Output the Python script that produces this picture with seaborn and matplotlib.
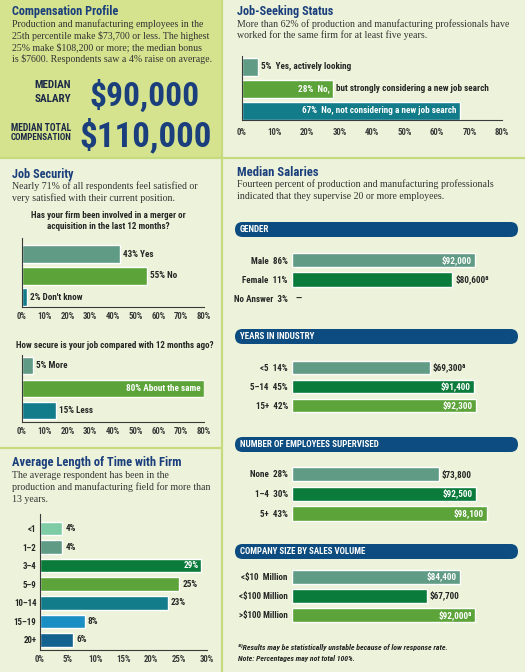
import matplotlib
matplotlib.use("Agg")
import matplotlib.pyplot as plt
from matplotlib.patches import Rectangle, FancyBboxPatch
import seaborn as sns
import pandas as pd

# ---------------- data ----------------
seek_labels = ["Yes, actively looking",
               "No, but strongly considering a new job search",
               "No, not considering a new job search"]
seek_vals = [5, 28, 67]
seek_place = ["out", "split", "in"]

merger_labels = ["Yes", "No", "Don't know"]
merger_vals = [43, 55, 2]
merger_place = ["out", "out", "out"]

secure_labels = ["More", "About the same", "Less"]
secure_vals = [5, 80, 15]
secure_place = ["out", "in", "out"]

tenure_cats = ["<1", "1–2", "3–4", "5–9", "10–14", "15–19", "20+"]
tenure_vals = [4, 4, 29, 25, 23, 8, 6]
tenure_place = ["out", "out", "in", "out", "out", "out", "out"]

gender_cats = ["Male", "Female", "No Answer"]
gender_pct = ["86%", "11%", "3%"]
gender_sal = [92000, 80600, None]
gender_note = ["", "ᵃ", ""]

industry_cats = ["<5", "5–14", "15+"]
industry_pct = ["14%", "45%", "42%"]
industry_sal = [69300, 91400, 92300]
industry_note = ["ᵃ", "", ""]

superv_cats = ["None", "1–4", "5+"]
superv_pct = ["28%", "30%", "43%"]
superv_sal = [73800, 92500, 98100]
superv_note = ["", "", ""]

size_cats = ["<$10  Million", "<$100 Million", ">$100 Million"]
size_pct = ["", "", ""]
size_sal = [84400, 67700, 92000]
size_note = ["", "", "ᵃ"]

# ---------------- style ----------------
W, H = 525, 672
BG = "#edf3da"
PANEL = "#d5e38f"
SEP = "#c6da80"
NAVY = "#1b3f7c"
PILL = "#0d4c80"
DARK = "#262626"
GREYGREEN = "#5f9b85"
GREEN = "#5ca43a"
TEAL = "#127c8b"
DKGREEN = "#0a7b3a"
MINT = "#7ecca6"
LTBLUE = "#1a8fc3"
DKBLUE = "#13618f"

NARROW = ["Roboto Condensed", "Roboto", "DejaVu Sans"]
SERIF = ["Liberation Serif", "DejaVu Serif"]

sns.set_style("white")
plt.rcParams["font.family"] = NARROW
plt.rcParams["font.weight"] = "bold"

fig = plt.figure(figsize=(W / 100, H / 100), dpi=100, facecolor=BG)
FIT = []  # (text, max width in px)

# overlay in pixel coordinates
ax0 = fig.add_axes([0, 0, 1, 1])
ax0.set_xlim(0, W)
ax0.set_ylim(H, 0)
ax0.axis("off")
ax0.add_patch(Rectangle((0, 0), 222, 158, color=PANEL, lw=0))
ax0.plot([222, 222], [0, H], color=SEP, lw=1.6)
ax0.plot([0, W], [158, 158], color=SEP, lw=1.6)
ax0.plot([0, 222], [448, 448], color=SEP, lw=1.6)


def txt(x, y, s, size, fit=None, **kw):
    kw.setdefault("color", DARK)
    kw.setdefault("va", "baseline")
    t = ax0.text(x, y, s, fontsize=size, parse_math=False, **kw)
    if fit:
        FIT.append((t, fit))
    return t


def title(x, y, s, w):
    txt(x, y, s, 10, fit=w, color=NAVY, fontweight="bold")


def body(x, y0, lines, step=11.8):
    for i, line in enumerate(lines):
        txt(x, y0 + i * step, line, 7.15, family=SERIF, fontweight="normal", color="#333333")


# compensation profile
title(12, 15, "Compensation Profile", 106)
body(12, 27, ["Production and manufacturing employees in the",
              "25th percentile make $73,700 or less. The highest",
              "25% make $108,200 or more; the median bonus",
              "is $7600. Respondents saw a 4% raise on average."])
txt(71, 88, "MEDIAN", 8, ha="right", color="#1c2a48")
txt(71, 101.5, "SALARY", 8, ha="right", color="#1c2a48")
txt(71, 131, "MEDIAN TOTAL", 7, fit=60, ha="right", color="#1c2a48")
txt(71, 140.5, "COMPENSATION", 7, fit=61, ha="right", color="#1c2a48")
txt(200, 106, "$90,000", 30, fit=110, ha="right", color=NAVY)
txt(212, 146, "$110,000", 30, fit=133, ha="right", color=NAVY)

title(237, 15, "Job-Seeking Status", 97)
body(237, 27, ["More than 62% of production and manufacturing professionals have",
               "worked for the same firm for at least five years."], step=11.3)

title(12, 178, "Job Security", 62)
body(12, 189, ["Nearly 71% of all respondents feel satisfied or",
               "very satisfied with their current position."])
txt(108, 218, "Has your firm been involved in a merger or", 6.5, fit=155, ha="center")
txt(108, 229, "acquisition in the last 12 months?", 6.5, fit=122, ha="center")
txt(115, 348, "How secure is your job compared with 12 months ago?", 6.5, fit=196, ha="center")

title(12, 466, "Average Length of Time with Firm", 169)
body(12, 478, ["The average respondent has been in the",
               "production and manufacturing field for more than",
               "13 years."])

title(237, 176, "Median Salaries", 81)
body(237, 187, ["Fourteen percent of production and manufacturing professionals",
                "indicated that they supervise 20 or more employees."])

for ytop, name, w in [(222, "GENDER", 31), (329, "YEARS IN INDUSTRY", 74),
                      (437, "NUMBER OF EMPLOYEES SUPERVISED", 140),
                      (544, "COMPANY SIZE BY SALES VOLUME", 125)]:
    ax0.add_patch(FancyBboxPatch((235, ytop), 283, 15, lw=0, color=PILL,
                                 boxstyle="round,pad=0,rounding_size=7.5"))
    txt(240, ytop + 7.8, name, 6.5, fit=w, color="white", va="center")

txt(238, 650, "ᵃ⁾Results may be statistically unstable because of low response rate.",
    6, fit=210, style="italic")
txt(238, 661, "Note: Percentages may not total 100%.", 6, fit=118, style="italic")


def px_axes(x0, y0, x1, y1):
    a = fig.add_axes([x0 / W, 1 - y1 / H, (x1 - x0) / W, (y1 - y0) / H])
    a.set_facecolor("none")
    return a


def put(ax, x, y, s, inside, size=6.6):
    if inside:
        return ax.annotate(s, (x, y), xytext=(-2.2, 0), textcoords="offset points",
                           ha="right", va="center", color="white", fontsize=size)
    return ax.annotate(s, (x, y), xytext=(2.2, 0), textcoords="offset points",
                       ha="left", va="center", color=DARK, fontsize=size)


def pct_chart(box, cats, vals, colors, xmax, step, ylim, width, pad=3.5):
    ax = px_axes(*box)
    df = pd.DataFrame({"cat": cats, "val": vals})
    sns.barplot(data=df, x="val", y="cat", hue="cat", palette=dict(zip(cats, colors)),
                orient="h", width=width, saturation=1, legend=False, ax=ax)
    ax.set_xlim(0, xmax)
    ax.set_ylim(*ylim)
    ticks = list(range(0, xmax + 1, step))
    ax.set_xticks(ticks)
    ax.set_xticklabels([f"{t}%" for t in ticks])
    for s in ["top", "right"]:
        ax.spines[s].set_visible(False)
    for s in ["left", "bottom"]:
        ax.spines[s].set_color("#3a3a3a")
        ax.spines[s].set_linewidth(0.8)
    ax.tick_params(axis="x", direction="in", length=3, width=0.7, colors="#3a3a3a",
                   pad=pad, labelsize=6.3)
    ax.tick_params(axis="y", length=0)
    ax.set_xlabel("")
    ax.set_ylabel("")
    return ax


# job seeking
ax = pct_chart((242, 56, 502, 120), seek_labels, seek_vals, [GREYGREEN, GREEN, TEAL],
               80, 10, (2.41, -0.5), 0.8, pad=5.5)
ax.set_yticklabels([])
for i, (lab, v, p) in enumerate(zip(seek_labels, seek_vals, seek_place)):
    if p == "split":
        a, b = lab.split(", ", 1)
        put(ax, v, i, f"{v}%  {a},", True)
        put(ax, v, i, b, False)
    else:
        put(ax, v, i, f"{v}%  {lab}", p == "in")

# merger
ax = pct_chart((22, 238, 204, 307), merger_labels, merger_vals, [GREYGREEN, GREEN, TEAL],
               80, 10, (2.44, -0.74), 0.83)
ax.set_yticklabels([])
for i, (lab, v, p) in enumerate(zip(merger_labels, merger_vals, merger_place)):
    put(ax, v, i, f"{v}% {lab}", p == "in")

# job security
ax = pct_chart((22, 355, 204, 422), secure_labels, secure_vals, [GREYGREEN, GREEN, TEAL],
               80, 10, (2.5, -0.47), 0.76)
ax.set_yticklabels([])
for i, (lab, v, p) in enumerate(zip(secure_labels, secure_vals, secure_place)):
    put(ax, v, i, f"{v}% {lab}", p == "in")

# tenure
ax = pct_chart((40, 514, 207, 650), tenure_cats, tenure_vals,
               [MINT, GREYGREEN, DKGREEN, GREEN, TEAL, LTBLUE, DKBLUE],
               30, 5, (6.54, -0.78), 0.73)
ax.tick_params(axis="y", pad=2.5, labelsize=6.4, colors=DARK)
for i, (v, p) in enumerate(zip(tenure_vals, tenure_place)):
    put(ax, v, i, f"{v}%", p == "in")


def salary_chart(box, cats, pct, sal, notes):
    ax = px_axes(*box)
    df = pd.DataFrame({"cat": cats, "sal": sal}).dropna()
    pal = dict(zip(cats, [GREYGREEN, DKGREEN, GREEN]))
    sns.barplot(data=df, x="sal", y="cat", hue="cat", order=cats, palette=pal,
                orient="h", width=0.73, saturation=1, legend=False, ax=ax)
    ax.set_xlim(0, 113600)
    ax.set_ylim(2.5, -0.5)
    for s in ax.spines.values():
        s.set_visible(False)
    ax.set_xticks([])
    ax.set_yticks(range(len(cats)))
    ax.set_yticklabels([f"{c}  {p}".strip() for c, p in zip(cats, pct)])
    ax.tick_params(axis="y", length=0, pad=3, labelsize=6.5, colors=DARK)
    ax.set_xlabel("")
    ax.set_ylabel("")
    for i, (v, n) in enumerate(zip(sal, notes)):
        if v is None or v != v:
            put(ax, 0, i, "—", False)
            continue
        put(ax, v, i, f"${v:,.0f}{n}", v > 82000)
    return ax


salary_chart((292, 250.25, 518, 308.75), gender_cats, gender_pct, gender_sal, gender_note)
salary_chart((292, 358, 518, 415), industry_cats, industry_pct, industry_sal, industry_note)
salary_chart((292, 464, 518, 523.5), superv_cats, superv_pct, superv_sal, superv_note)
salary_chart((292, 567, 518, 624.5), size_cats, size_pct, size_sal, size_note)

# shrink texts that are wider than in the reference
renderer = fig.canvas.get_renderer()
for t, w in FIT:
    cur = t.get_window_extent(renderer).width
    if cur > w:
        t.set_fontsize(t.get_fontsize() * w / cur)

fig.savefig("out.png", dpi=100, facecolor=BG)
